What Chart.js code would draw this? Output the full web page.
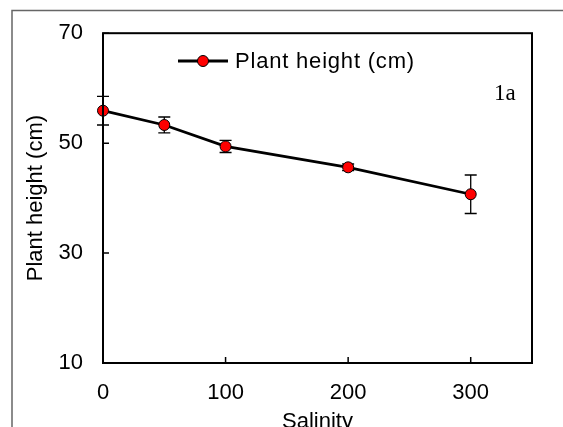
<!DOCTYPE html>
<html>
<head>
<meta charset="utf-8">
<script src="https://cdn.jsdelivr.net/npm/chart.js@4"></script>
<style>
  body { margin: 0; background: #fff; }
  #wrap { width: 563px; height: 427px; }
</style>
</head>
<body>
<div id="wrap"><canvas id="myChart" width="563" height="427"></canvas></div>
<script>
// data
var salinity = [0, 50, 100, 200, 300];
var plantHeight = [55.9, 53.3, 49.4, 45.6, 40.7];
var plantHeightErr = [2.6, 1.45, 1.1, 0.6, 3.5];
var xTicks = [0, 100, 200, 300];
var yTicks = [10, 30, 50, 70];
var seriesLabel = 'Plant height (cm)';
var panelLabel = '1a';

var font = "'Liberation Sans', Arial, sans-serif";

// grey page frame, plot box, inward ticks, legend
var framePlugin = {
    id: 'frame',
    beforeDraw: function (chart) {
        var c = chart.ctx;
        c.save();
        c.strokeStyle = '#666';
        c.lineWidth = 1.5;
        c.beginPath();
        c.moveTo(12, 427);
        c.lineTo(12, 10.5);
        c.lineTo(563, 10.5);
        c.stroke();
        c.restore();
    },
    afterDraw: function (chart) {
        var c = chart.ctx, a = chart.chartArea;
        var xs = chart.scales.x, ys = chart.scales.y;
        c.save();
        c.strokeStyle = '#000';
        c.lineWidth = 2;
        c.strokeRect(a.left, a.top, a.right - a.left, a.bottom - a.top);
        c.lineWidth = 1.5;
        c.beginPath();
        xTicks.forEach(function (v) {
            var px = xs.getPixelForValue(v);
            c.moveTo(px, a.bottom);
            c.lineTo(px, a.bottom - 6);
        });
        yTicks.forEach(function (v) {
            var py = ys.getPixelForValue(v);
            c.moveTo(a.left, py);
            c.lineTo(a.left + 6, py);
        });
        c.stroke();

        // legend
        var ly = 61;
        c.lineWidth = 2.8;
        c.beginPath();
        c.moveTo(178, ly);
        c.lineTo(228, ly);
        c.stroke();
        c.beginPath();
        c.arc(203, ly, 5.5, 0, Math.PI * 2);
        c.fillStyle = '#ff0000';
        c.fill();
        c.lineWidth = 1;
        c.stroke();
        c.fillStyle = '#000';
        c.font = '22px ' + font;
        c.letterSpacing = '0.8px';
        c.textBaseline = 'middle';
        c.textAlign = 'left';
        c.fillText(seriesLabel, 235, ly + 1);
        c.letterSpacing = '0px';

        c.font = "23px 'Liberation Serif', 'Times New Roman', serif";
        c.fillText(panelLabel, 494, 94);
        c.restore();
    }
};

var errorBars = {
    id: 'errorBars',
    beforeDatasetsDraw: function (chart) {
        var c = chart.ctx;
        var xs = chart.scales.x, ys = chart.scales.y;
        c.save();
        c.strokeStyle = '#000';
        c.lineWidth = 1.3;
        c.beginPath();
        salinity.forEach(function (x, i) {
            var px = xs.getPixelForValue(x);
            var top = ys.getPixelForValue(plantHeight[i] + plantHeightErr[i]);
            var bot = ys.getPixelForValue(plantHeight[i] - plantHeightErr[i]);
            c.moveTo(px, top);
            c.lineTo(px, bot);
            c.moveTo(px - 6, top);
            c.lineTo(px + 6, top);
            c.moveTo(px - 6, bot);
            c.lineTo(px + 6, bot);
        });
        c.stroke();
        c.restore();
    }
};

var ctx = document.getElementById('myChart').getContext('2d');
var myChart = new Chart(ctx, {
    type: 'line',
    data: {
        datasets: [{
            label: seriesLabel,
            data: salinity.map(function (x, i) { return { x: x, y: plantHeight[i] }; }),
            borderColor: '#000',
            borderWidth: 2.8,
            pointRadius: 5.5,
            pointBackgroundColor: '#ff0000',
            pointBorderColor: '#000',
            pointBorderWidth: 1,
            tension: 0,
            clip: false
        }]
    },
    options: {
        responsive: false,
        animation: false,
        layout: { padding: { left: 0, top: 33, right: 31, bottom: 0 } },
        plugins: { legend: { display: false }, tooltip: { enabled: false } },
        scales: {
            x: {
                type: 'linear',
                min: 0,
                max: 350,
                afterBuildTicks: function (s) { s.ticks = xTicks.map(function (v) { return { value: v }; }); },
                afterFit: function (s) { s.height = 64; },
                grid: { display: false, drawTicks: false },
                border: { display: false },
                ticks: { color: '#000', font: { family: font, size: 22 }, padding: 17, maxRotation: 0 },
                title: { display: true, text: 'Salinity', color: '#000', font: { family: font, size: 22, lineHeight: 0.9 }, padding: { top: 0, bottom: -5 } }
            },
            y: {
                min: 10,
                max: 70,
                afterBuildTicks: function (s) { s.ticks = yTicks.map(function (v) { return { value: v }; }); },
                afterFit: function (s) { s.width = 103; },
                grid: { display: false, drawTicks: false },
                border: { display: false },
                ticks: { color: '#000', font: { family: font, size: 22 }, padding: 20 },
                title: { display: true, text: 'Plant height (cm)', color: '#000', font: { family: font, size: 22, lineHeight: 1.0 }, padding: { top: 25, bottom: 0 } }
            }
        }
    },
    plugins: [framePlugin, errorBars]
});
</script>
</body>
</html>
